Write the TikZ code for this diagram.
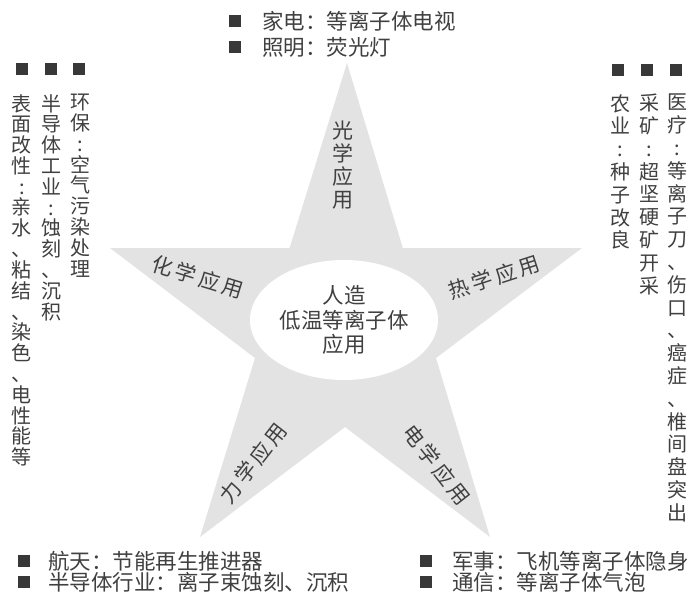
\documentclass[tikz,border=0pt]{standalone}
\usepackage{fontspec}
\newfontfamily\cjk{Noto Sans CJK SC}
\usetikzlibrary{shapes.geometric}
\newcommand\gp{\hspace{3.5pt}}
\begin{document}
\begin{tikzpicture}[x=1pt,y=-1pt,
  ink/.style={text=black!75},
  sq/.style={fill=black!78, minimum size=12pt, inner sep=0pt},
  htext/.style={ink, font=\cjk\fontsize{21.5}{21.5}\selectfont, anchor=west, inner sep=0pt},
  vtextL/.style={ink, font=\cjk\fontsize{20}{20.8}\selectfont, align=center, anchor=north, inner sep=0pt, text width=22pt},
  vtextR/.style={ink, font=\cjk\fontsize{20}{22.8}\selectfont, align=center, anchor=north, inner sep=0pt, text width=22pt},
  arm/.style={ink, font=\cjk\fontsize{21}{23}\selectfont, inner sep=0pt},
  core/.style={ellipse, fill=white, minimum width=188pt, minimum height=120pt, inner sep=0pt,
    ink, align=center, font=\cjk\fontsize{21.5}{24.5}\selectfont}
]
\useasboundingbox (0,0) rectangle (698,599);
\fill[white] (0,0) rectangle (698,599);
% star
\fill[black!11] (347,63) -- (402.8,248) -- (582,248) -- (436,358) -- (490,537)
  -- (345,427) -- (200,537) -- (255,358) -- (110,248) -- (289.6,248) -- cycle;
\node[core] (core) at (344,320) {人造\\低温等离子体\\应用};
% arm labels
\node[arm, align=center] (opt) at (343,165) {光\\学\\应\\用};
\node[arm, rotate=-17] (chem) at (198,277) {化\gp 学\gp 应\gp 用};
\node[arm, rotate=18] (heat) at (494,277) {热\gp 学\gp 应\gp 用};
\node[arm, rotate=52] (mech) at (253,463) {力\gp 学\gp 应\gp 用};
\node[arm, rotate=-52] (elec) at (437,465) {电\gp 学\gp 应\gp 用};
% top
\node[sq] (tb1) at (235,21) {};
\node[htext] (tt1) at (262,21) {家电：等离子体电视};
\node[sq] (tb2) at (235,47) {};
\node[htext] (tt2) at (262,47) {照明：荧光灯};
% bottom
\node[sq] (bb1) at (24,561) {};
\node[htext] (bt1) at (48,561) {航天：节能再生推进器};
\node[sq] (bb2) at (24,582) {};
\node[htext] (bt2) at (48,582) {半导体行业：离子束蚀刻、沉积};
\node[sq] (bb3) at (426,561) {};
\node[htext] (bt3) at (452,561) {军事：飞机等离子体隐身};
\node[sq] (bb4) at (426,582) {};
\node[htext] (bt4) at (452,582) {通信：等离子体气泡};
% left columns
\node[sq] (lb1) at (22,69) {};
\node[sq] (lb2) at (51,69) {};
\node[sq] (lb3) at (79,69) {};
\node[vtextL] (lc1) at (22,94) {表\\面\\改\\性\\:\\亲\\水\\、\\粘\\结\\、\\染\\色\\、\\电\\性\\能\\等};
\node[vtextL] (lc2) at (51,94) {半\\导\\体\\工\\业\\:\\蚀\\刻\\、\\沉\\积};
\node[vtextL] (lc3) at (80,94) {环\\保\\:\\空\\气\\污\\染\\处\\理};
% right columns
\node[sq] (rb1) at (618,70) {};
\node[sq] (rb2) at (647,70) {};
\node[sq] (rb3) at (676,70) {};
\node[vtextR] (rc1) at (620,94) {农\\业\\:\\种\\子\\改\\良};
\node[vtextR] (rc2) at (649,94) {采\\矿\\:\\超\\坚\\硬\\矿\\开\\采};
\node[vtextR] (rc3) at (677,94) {医\\疗\\:\\等\\离\\子\\刀\\、\\伤\\口\\、\\癌\\症\\、\\椎\\间\\盘\\突\\出};
\end{tikzpicture}
\end{document}
